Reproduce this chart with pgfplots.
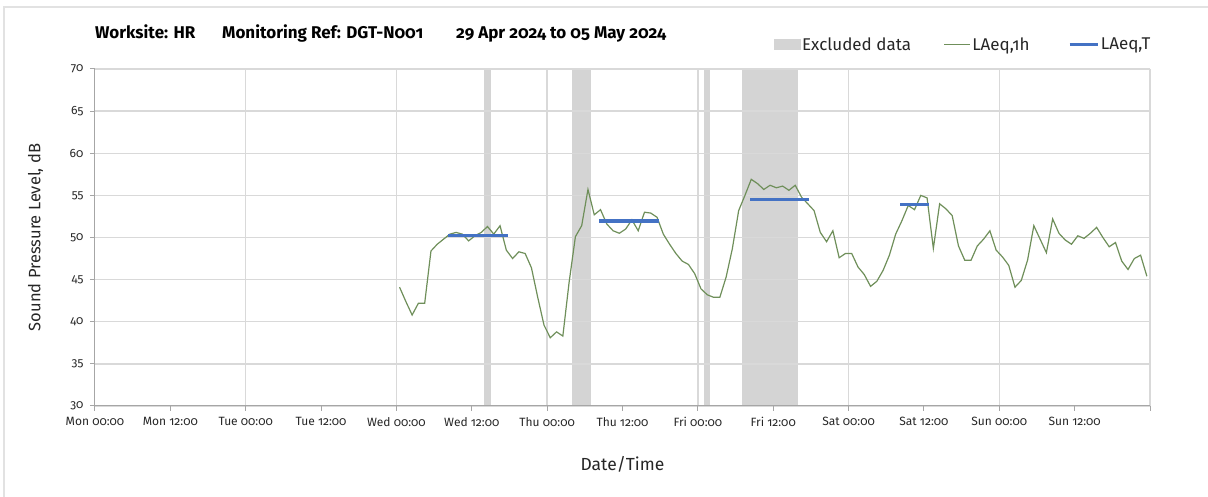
\documentclass[border=0pt]{standalone}
\usepackage{fontspec}
\setmainfont{Fira Sans}[Numbers=OldStyle]
\usepackage{pgfplots}
\pgfplotsset{compat=1.18}
\usepackage{pgfplotstable}

\definecolor{excl}{HTML}{D4D4D4}
\definecolor{lgreen}{HTML}{6F8F5A}
\definecolor{lblue}{HTML}{4472C4}
\definecolor{gridc}{HTML}{D9D9D9}
\definecolor{axisc}{HTML}{A6A6A6}
\definecolor{txt}{HTML}{262626}
\definecolor{framec}{HTML}{E2E2E2}

\pgfplotsset{
  exclleg/.style={legend image code/.code={\fill[excl] (0pt,-5pt) rectangle (26pt,5pt);}},
  gleg/.style={legend image code/.code={\draw[lgreen, line width=1.2pt] (0pt,0pt) -- (26pt,0pt);}},
  bleg/.style={legend image code/.code={\draw[lblue, line width=3.2pt] (0pt,0pt) -- (28pt,0pt);}},
}

\pgfplotstableread{
t LAeq
48.5 44.1
49.5 42.4
50.5 40.8
51.5 42.2
52.5 42.2
53.5 48.4
54.5 49.2
55.5 49.8
56.5 50.4
57.5 50.6
58.5 50.4
59.5 49.6
60.5 50.2
61.5 50.6
62.5 51.3
63.5 50.4
64.5 51.4
65.5 48.5
66.5 47.5
67.5 48.3
68.5 48.1
69.5 46.4
70.5 42.9
71.5 39.6
72.5 38.1
73.5 38.8
74.5 38.3
75.5 44.7
76.5 50.1
77.5 51.4
78.5 55.7
79.5 52.7
80.5 53.3
81.5 51.6
82.5 50.8
83.5 50.5
84.5 51.0
85.5 52.1
86.5 50.8
87.5 53.0
88.5 52.9
89.5 52.4
90.5 50.4
91.5 49.2
92.5 48.1
93.5 47.2
94.5 46.8
95.5 45.7
96.5 43.9
97.5 43.2
98.5 42.9
99.5 42.9
100.5 45.3
101.5 48.7
102.5 53.2
103.5 55.0
104.5 56.9
105.5 56.4
106.5 55.7
107.5 56.2
108.5 55.9
109.5 56.1
110.5 55.6
111.5 56.2
112.5 54.8
113.5 54.0
114.5 53.2
115.5 50.6
116.5 49.5
117.5 50.8
118.5 47.6
119.5 48.1
120.5 48.1
121.5 46.5
122.5 45.6
123.5 44.2
124.5 44.8
125.5 46.1
126.5 47.9
127.5 50.4
128.5 52.0
129.5 53.8
130.5 53.3
131.5 55.0
132.5 54.7
133.5 48.7
134.5 54.0
135.5 53.4
136.5 52.6
137.5 49.0
138.5 47.3
139.5 47.3
140.5 49.0
141.5 49.8
142.5 50.8
143.5 48.5
144.5 47.7
145.5 46.7
146.5 44.1
147.5 44.9
148.5 47.3
149.5 51.4
150.5 49.8
151.5 48.2
152.5 52.2
153.5 50.5
154.5 49.7
155.5 49.2
156.5 50.2
157.5 49.9
158.5 50.5
159.5 51.2
160.5 50.0
161.5 48.9
162.5 49.4
163.5 47.2
164.5 46.2
165.5 47.5
166.5 47.9
167.5 45.4
}\hourly

\begin{document}
\begin{tikzpicture}
\draw[framec, line width=1.2pt] (-91pt,-95pt) -- (-91pt,399pt) -- (1120pt,399pt);
\begin{axis}[
  set layers,
  scale only axis, width=1055pt, height=337pt,
  at={(0pt,0pt)}, anchor=south west,
  xmin=0, xmax=168, ymin=30, ymax=70,
  axis x line*=bottom, axis y line*=left,
  axis line style={draw=axisc, line width=1pt, -},
  xtick={0,12,...,168},
  xticklabels={Mon 00:00,Mon 12:00,Tue 00:00,Tue 12:00,Wed 00:00,Wed 12:00,Thu 00:00,Thu 12:00,Fri 00:00,Fri 12:00,Sat 00:00,Sat 12:00,Sun 00:00,Sun 12:00,},
  extra x ticks={24,48,72,96,120,144,168},
  extra x tick labels={},
  extra x tick style={grid=major, major tick length=0pt},
  ytick={30,35,...,70},
  ymajorgrids,
  grid style={draw=gridc, line width=1.3pt},
  tick style={draw=axisc, line width=1pt},
  tick align=outside, major tick length=5pt,
  /pgf/number format/assume math mode=true,
  tick label style={font=\fontsize{12}{14}\selectfont, text=txt},
  xticklabel style={yshift=-3pt},
  yticklabel style={xshift=-3pt},
  xlabel={Date/Time},
  ylabel={Sound Pressure Level, dB},
  xlabel style={at={(axis description cs:0.5,-0.192)}, anchor=base, font=\fontsize{17.5}{20}\selectfont, text=txt},
  ylabel style={at={(axis description cs:-0.0564,0.5)}, anchor=center, font=\fontsize{16.5}{19}\selectfont, text=txt},
  title={\makebox[127pt][l]{Worksite: HR}\makebox[234pt][l]{Monitoring Ref: DGT-N001}29 Apr 2024 to 05 May 2024},
  title style={at={(axis description cs:0,1.0712)}, anchor=base west, font=\bfseries\fontsize{17}{20}\selectfont, text=black, inner sep=0pt},
  legend columns=3,
  legend style={at={(axis description cs:0.6436,1.0722)}, anchor=west, draw=none, fill=none,
    font=\fontsize{17}{20}\selectfont, text=txt, inner sep=0pt,
    nodes={inner sep=1.5pt},
    /tikz/column 2/.append style={column sep=31pt},
    /tikz/column 4/.append style={column sep=37pt}},
  legend cell align=left,
]
\addlegendimage{exclleg}
\addlegendentry{Excluded data}
\addlegendimage{gleg}
\addlegendentry{LAeq,1h}
\addlegendimage{bleg}
\addlegendentry{LAeq,T}

% excluded data bands
\addplot[fill=excl, draw=none, on layer=axis background, forget plot] coordinates {(62,30) (62,70) (63,70) (63,30)} -- cycle;
\addplot[fill=excl, draw=none, on layer=axis background, forget plot] coordinates {(76,30) (76,70) (79,70) (79,30)} -- cycle;
\addplot[fill=excl, draw=none, on layer=axis background, forget plot] coordinates {(97,30) (97,70) (98,70) (98,30)} -- cycle;
\addplot[fill=excl, draw=none, on layer=axis background, forget plot] coordinates {(103,30) (103,70) (112,70) (112,30)} -- cycle;

% hourly LAeq
\addplot[lgreen, line width=1.2pt, forget plot] table[x=t, y=LAeq] {\hourly};

% LAeq,T
\addplot[lblue, line width=3.4pt, line cap=rect, forget plot] coordinates {(56.5,50.25) (65.5,50.25)};
\addplot[lblue, line width=3.4pt, line cap=rect, forget plot] coordinates {(80.5,51.95) (89.5,51.95)};
\addplot[lblue, line width=3.4pt, line cap=rect, forget plot] coordinates {(104.5,54.5) (113.5,54.5)};
\addplot[lblue, line width=3.4pt, line cap=rect, forget plot] coordinates {(128.5,53.95) (132.5,53.95)};
\end{axis}
\pgfresetboundingbox
\useasboundingbox (-95pt,-91pt) rectangle (1113pt,406pt);
\end{tikzpicture}
\end{document}
